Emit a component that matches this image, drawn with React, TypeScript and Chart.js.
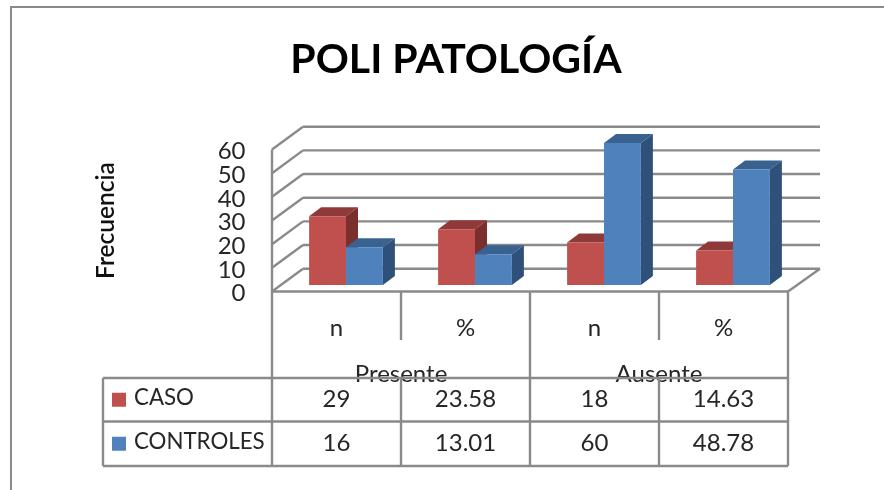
import React, { useEffect, useRef } from "react";
import { Chart, registerables } from "chart.js";

Chart.register(...registerables);

const chartTitle = "POLI PATOLOGÍA";
const yAxisTitle = "Frecuencia";
const subCategories = ["n", "%", "n", "%"];
const groupCategories = ["Presente", "Ausente"];
const casoLabel = "CASO";
const controlesLabel = "CONTROLES";
const casoValues = [29, 23.58, 18, 14.63];
const controlesValues = [16, 13.01, 60, 48.78];
const yTicks = [0, 10, 20, 30, 40, 50, 60];

const FONT = "Lato, 'Open Sans', sans-serif";
const LINE = "#8a8a8a";
const TEXT = "#262626";
const RED = "#C0504D";
const BLUE = "#4F81BD";
const FACE: Record<string, { top: string; side: string }> = {
  [RED]: { top: "#8F3A38", side: "#7A2F2D" },
  [BLUE]: { top: "#3A6291", side: "#2F5079" },
};

// Perspective offsets of the fake 3D box, relative to the bar plane.
const BAR_DX = 12;
const BAR_DY = -9;
const WALL_X = 272;
const FLOOR_SHIFT = 6.5; // front edge of floor below the bar base
const BACK_SHIFT = -16.3; // back wall above the bar base
const WALL_DX = 31;
const FLOOR_RIGHT = 788;
const BACK_RIGHT = 820;

function poly(ctx: CanvasRenderingContext2D, pts: number[][], fill: string) {
  ctx.beginPath();
  pts.forEach(([x, y], i) => (i ? ctx.lineTo(x, y) : ctx.moveTo(x, y)));
  ctx.closePath();
  ctx.fillStyle = fill;
  ctx.fill();
}

function seg(ctx: CanvasRenderingContext2D, x1: number, y1: number, x2: number, y2: number) {
  ctx.beginPath();
  ctx.moveTo(x1, y1);
  ctx.lineTo(x2, y2);
  ctx.stroke();
}

const boxPlugin = {
  id: "box3d",
  beforeDatasetsDraw(chart: any) {
    const ctx: CanvasRenderingContext2D = chart.ctx;
    const y = chart.scales.y;
    ctx.save();
    ctx.strokeStyle = LINE;
    ctx.lineWidth = 2.4;
    // walls and gridlines
    yTicks.forEach((t) => {
      const p = y.getPixelForValue(t);
      seg(ctx, WALL_X, p + FLOOR_SHIFT, WALL_X + WALL_DX, p + BACK_SHIFT);
      seg(ctx, WALL_X + WALL_DX, p + BACK_SHIFT, BACK_RIGHT, p + BACK_SHIFT);
    });
    const base = y.getPixelForValue(0);
    const top = y.getPixelForValue(60);
    seg(ctx, WALL_X, top + FLOOR_SHIFT, WALL_X, 378);
    seg(ctx, WALL_X, base + FLOOR_SHIFT, FLOOR_RIGHT, base + FLOOR_SHIFT);
    seg(ctx, FLOOR_RIGHT, base + FLOOR_SHIFT, BACK_RIGHT, base + BACK_SHIFT);

    // top and side faces: the fronts are painted over them by the library
    [0, 1].forEach((d) => {
      const meta = chart.getDatasetMeta(d);
      const color = chart.data.datasets[d].backgroundColor as string;
      meta.data.forEach((bar: any) => {
        const half = bar.width / 2;
        const l = bar.x - half;
        const r = bar.x + half;
        const t = bar.y;
        const b = bar.base;
        poly(ctx, [[l, t], [l + BAR_DX, t + BAR_DY], [r + BAR_DX, t + BAR_DY], [r, t]], FACE[color].top);
        poly(ctx, [[r, t], [r + BAR_DX, t + BAR_DY], [r + BAR_DX, b + BAR_DY], [r, b]], FACE[color].side);
      });
    });
    ctx.restore();
  },
  afterDraw(chart: any) {
    const ctx: CanvasRenderingContext2D = chart.ctx;
    const colW = 129;
    const edges = subCategories.map((_, i) => WALL_X + i * colW);
    edges.push(WALL_X + subCategories.length * colW);
    const tableL = 103;
    const rows = [378, 421.5, 466];
    const floor = chart.scales.y.getPixelForValue(0) + FLOOR_SHIFT;
    ctx.save();
    ctx.strokeStyle = LINE;
    ctx.lineWidth = 2.4;
    // category dividers
    seg(ctx, edges[1], floor, edges[1], 340);
    seg(ctx, edges[3], floor, edges[3], 340);
    seg(ctx, edges[2], floor, edges[2], rows[0]);
    seg(ctx, edges[4], floor, edges[4], rows[0]);

    // group labels are overstruck by the table's top edge, as in the original
    ctx.fillStyle = TEXT;
    ctx.font = `24px ${FONT}`;
    ctx.textAlign = "center";
    ctx.textBaseline = "middle";
    groupCategories.forEach((g, i) => ctx.fillText(g, edges[i * 2 + 1], 374));

    // data table
    rows.forEach((r) => seg(ctx, tableL, r, edges[4], r));
    seg(ctx, tableL, rows[0], tableL, rows[2]);
    edges.forEach((e) => seg(ctx, e, rows[0], e, rows[2]));

    const rowDefs = [
      { label: casoLabel, values: casoValues, color: RED },
      { label: controlesLabel, values: controlesValues, color: BLUE },
    ];
    rowDefs.forEach((row, ri) => {
      const mid = (rows[ri] + rows[ri + 1]) / 2;
      ctx.fillStyle = row.color;
      ctx.fillRect(112, mid - 7, 14, 14);
      ctx.fillStyle = TEXT;
      ctx.textAlign = "left";
      ctx.font = `22.3px ${FONT}`;
      ctx.fillText(row.label, 134, mid - 2);
      ctx.textAlign = "center";
      ctx.font = `24px ${FONT}`;
      row.values.forEach((v, i) => {
        ctx.fillText(String(v), edges[i] + colW / 2, mid);
      });
    });

    // rotated axis label
    ctx.translate(106, 220.5);
    ctx.rotate(-Math.PI / 2);
    ctx.fillStyle = "#111";
    ctx.textAlign = "center";
    ctx.font = `600 24.5px ${FONT}`;
    ctx.fillText(yAxisTitle, 0, 0);
    ctx.restore();
  },
};

export default function App() {
  const ref = useRef<HTMLCanvasElement>(null);
  useEffect(() => {
    document.body.style.margin = "0";
    document.body.style.background = "#fff";
    const chart = new Chart(ref.current!, {
      type: "bar",
      data: {
        labels: subCategories,
        datasets: [
          { label: casoLabel, data: casoValues, backgroundColor: RED },
          { label: controlesLabel, data: controlesValues, backgroundColor: BLUE },
        ],
      },
      options: {
        responsive: false,
        animation: false,
        layout: { padding: { left: 114.5, right: 86.5, top: 0, bottom: 0 } },
        datasets: { bar: { categoryPercentage: 0.572, barPercentage: 1 } },
        plugins: {
          legend: { display: false },
          tooltip: { enabled: false },
          title: {
            display: true,
            text: chartTitle,
            color: "#000",
            font: { family: FONT, size: 41, weight: "bold", lineHeight: 1.2 },
            padding: { top: 35.4, bottom: 58.4 },
          },
        },
        scales: {
          x: {
            border: { display: false },
            grid: { display: false, drawTicks: false },
            afterFit: (s: any) => { s.height = 205; },
            ticks: {
              color: TEXT,
              font: { family: FONT, size: 24 },
              padding: 29,
              labelOffset: -9.5,
              autoSkip: false,
              maxRotation: 0,
              minRotation: 0,
            },
          },
          y: {
            min: 0,
            max: 60,
            border: { display: false },
            grid: { display: false, drawTicks: false },
            afterFit: (s: any) => { s.width = 167; },
            afterBuildTicks: (s: any) => { s.ticks = yTicks.map((value) => ({ value })); },
            ticks: {
              color: TEXT,
              font: { family: FONT, size: 24 },
              padding: 36,
              labelOffset: 8.5,
              autoSkip: false,
            },
          },
        },
      },
      plugins: [boxPlugin],
    } as any);
    return () => chart.destroy();
  }, []);
  return (
    <div style={{ position: "relative", width: 884, height: 490, overflow: "hidden", background: "#fff" }}>
      <canvas ref={ref} width={884} height={490} style={{ display: "block" }} />
      <div
        style={{
          position: "absolute",
          left: 10,
          top: 6,
          right: 0,
          bottom: 0,
          borderLeft: "2px solid #8a8a8a",
          borderTop: "2px solid #8a8a8a",
          pointerEvents: "none",
        }}
      />
    </div>
  );
}
